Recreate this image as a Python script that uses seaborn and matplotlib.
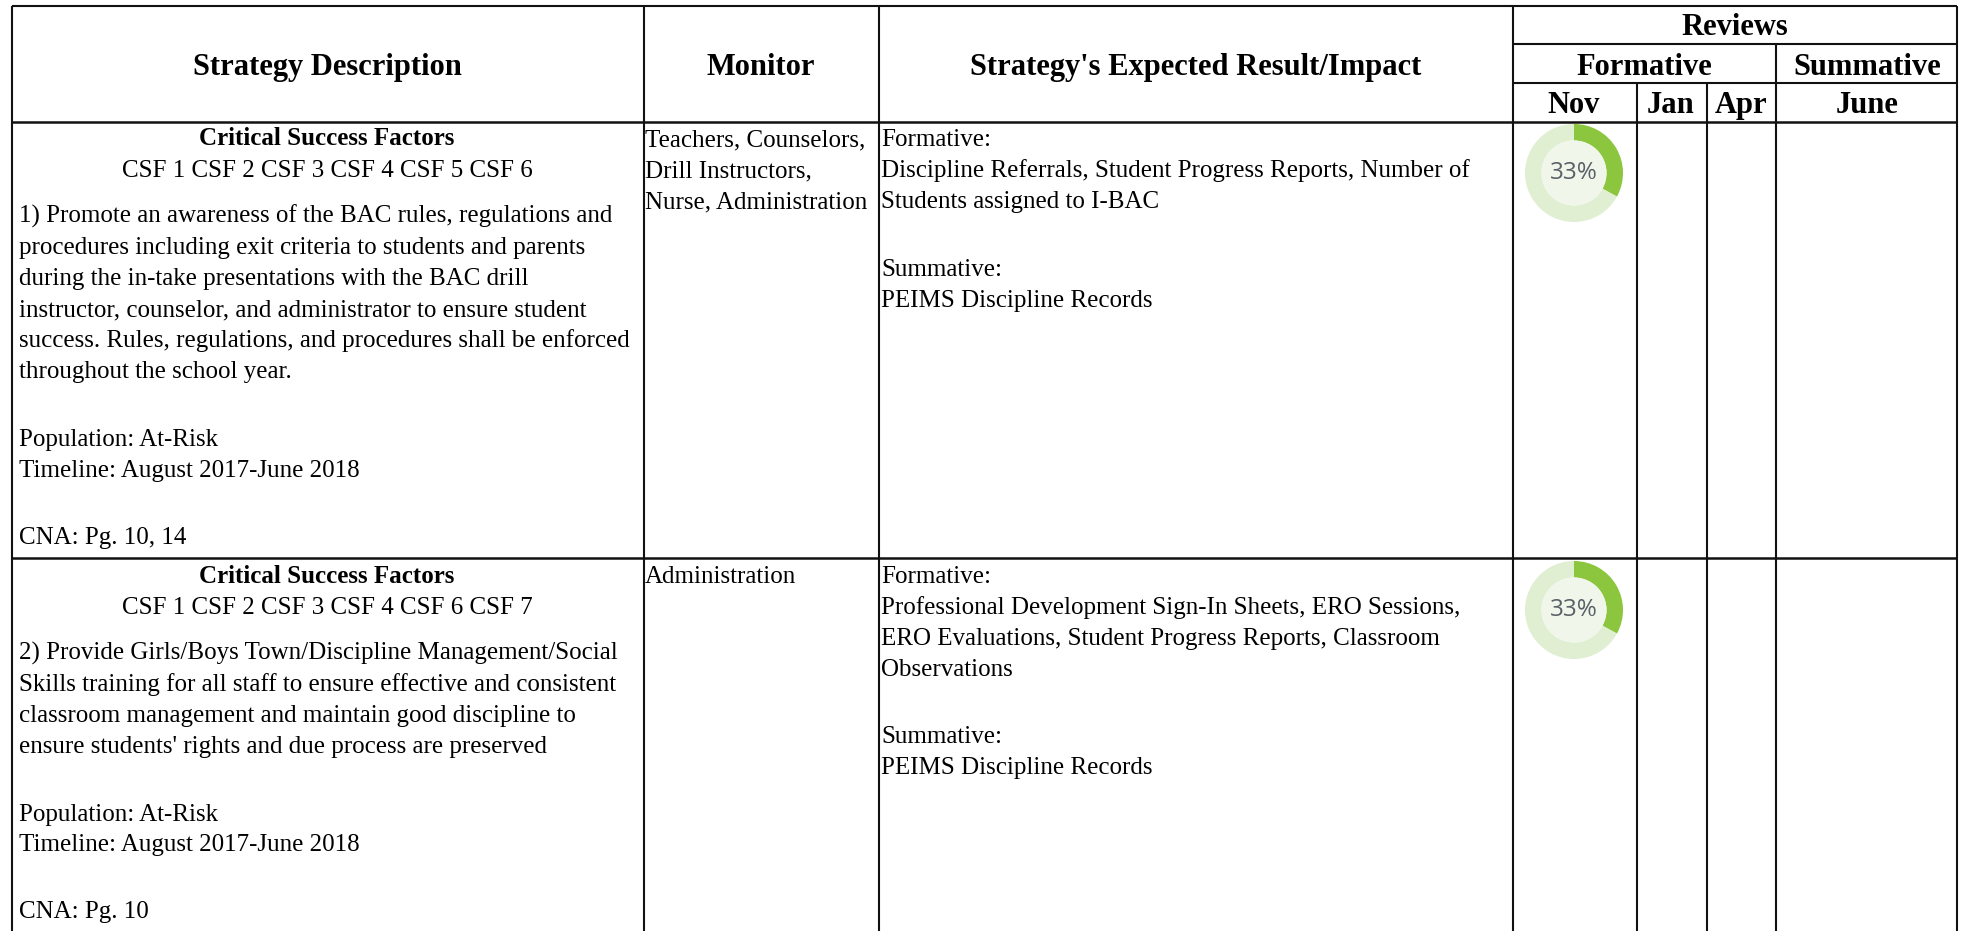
import matplotlib
matplotlib.use("Agg")
import matplotlib.pyplot as plt
import seaborn as sns
from matplotlib.patches import Circle

sns.set_theme(style="white")
plt.rcParams['font.family'] = ['Liberation Serif', 'DejaVu Serif']

W, H = 1963, 931
BODY = 18.0
HEAD = 22.0

col_x = [12, 644, 879, 1513, 1637, 1707, 1776, 1957]
row_y = [6, 44, 83, 122, 558, 931]

headers = [
    ("Strategy Description", 327, 75),
    ("Monitor", 761, 75),
    ("Strategy's Expected Result/Impact", 1196, 75),
    ("Reviews", 1735, 35),
    ("Formative", 1644, 75),
    ("Summative", 1867, 75),
    ("Nov", 1574, 113),
    ("Jan", 1671, 113),
    ("Apr", 1741, 113),
    ("June", 1867, 113),
]
csf_titles = [("Critical Success Factors", 327, 145), ("Critical Success Factors", 327, 583)]
csf_lists = [("CSF 1 CSF 2 CSF 3 CSF 4 CSF 5 CSF 6", 327, 177),
             ("CSF 1 CSF 2 CSF 3 CSF 4 CSF 6 CSF 7", 327, 614)]
left_text = [
    ("1) Promote an awareness of the BAC rules, regulations and", 19, 223),
    ("procedures including exit criteria to students and parents", 19, 254),
    ("during the in-take presentations with the BAC drill", 19, 285),
    ("instructor, counselor, and administrator to ensure student", 19, 316),
    ("success. Rules, regulations, and procedures shall be enforced", 19, 347),
    ("throughout the school year.", 19, 378),
    ("Population: At-Risk", 19, 446),
    ("Timeline: August 2017-June 2018", 19, 477),
    ("CNA: Pg. 10, 14", 19, 544),
    ("2) Provide Girls/Boys Town/Discipline Management/Social", 19, 660),
    ("Skills training for all staff to ensure effective and consistent", 19, 691),
    ("classroom management and maintain good discipline to", 19, 722),
    ("ensure students' rights and due process are preserved", 19, 753),
    ("Population: At-Risk", 19, 821),
    ("Timeline: August 2017-June 2018", 19, 851),
    ("CNA: Pg. 10", 19, 918),
]
monitor_text = [
    ("Teachers, Counselors,", 645, 146),
    ("Drill Instructors,", 645, 177),
    ("Nurse, Administration", 645, 208),
    ("Administration", 645, 583),
]
impact_text = [
    ("Formative:", 881, 146),
    ("Discipline Referrals, Student Progress Reports, Number of", 881, 177),
    ("Students assigned to I-BAC", 881, 208),
    ("Summative:", 881, 276),
    ("PEIMS Discipline Records", 881, 307),
    ("Formative:", 881, 583),
    ("Professional Development Sign-In Sheets, ERO Sessions,", 881, 614),
    ("ERO Evaluations, Student Progress Reports, Classroom", 881, 645),
    ("Observations", 881, 676),
    ("Summative:", 881, 743),
    ("PEIMS Discipline Records", 881, 774),
]
progress = [33, 33]
donut_y = [173, 610]
donut_x = 1574

fig = plt.figure(figsize=(W / 100, H / 100), dpi=100, facecolor="white")
ax = fig.add_axes([0, 0, 1, 1])

for pct, cy in zip(progress, donut_y):
    ax.pie([pct, 100 - pct], center=(donut_x, cy), radius=49, startangle=-90,
           colors=["#8CC63F", "#E0EFD2"], wedgeprops=dict(width=16.5, linewidth=0))
    ax.add_patch(Circle((donut_x, cy), 32.5, facecolor="#F0F7EA", edgecolor="none"))
    ax.text(donut_x, cy, f"{pct}%", ha="center", va="center", fontsize=17.5,
            color="#5A6068", family="Open Sans")

ax.set_xlim(0, W)
ax.set_ylim(H, 0)
ax.set_aspect("auto")
ax.axis("off")

LW = 1.5
K = "#111111"
ax.hlines(row_y[0], col_x[0], col_x[-1], color=K, lw=LW)
ax.hlines(row_y[1:3], col_x[3], col_x[-1], color=K, lw=LW)
ax.hlines(row_y[3:5], col_x[0], col_x[-1], color=K, lw=LW + 0.3)
ax.vlines(col_x[:4], row_y[0], row_y[-1], color=K, lw=LW)
ax.vlines(col_x[-1], row_y[0], row_y[-1], color=K, lw=LW)
ax.vlines(col_x[4:6], row_y[2], row_y[-1], color=K, lw=LW)
ax.vlines(col_x[6], row_y[1], row_y[-1], color=K, lw=LW)

for s, x, y in headers:
    ax.text(x, y, s, ha="center", va="baseline", fontsize=HEAD, fontweight="bold", color="black")
for s, x, y in csf_titles:
    ax.text(x, y, s, ha="center", va="baseline", fontsize=BODY, fontweight="bold", color="black")
for s, x, y in csf_lists:
    ax.text(x, y, s, ha="center", va="baseline", fontsize=BODY, color="black")
for group in (left_text, monitor_text, impact_text):
    for s, x, y in group:
        ax.text(x, y, s, ha="left", va="baseline", fontsize=BODY, color="black")

fig.savefig("out.png", dpi=100, facecolor="white")
